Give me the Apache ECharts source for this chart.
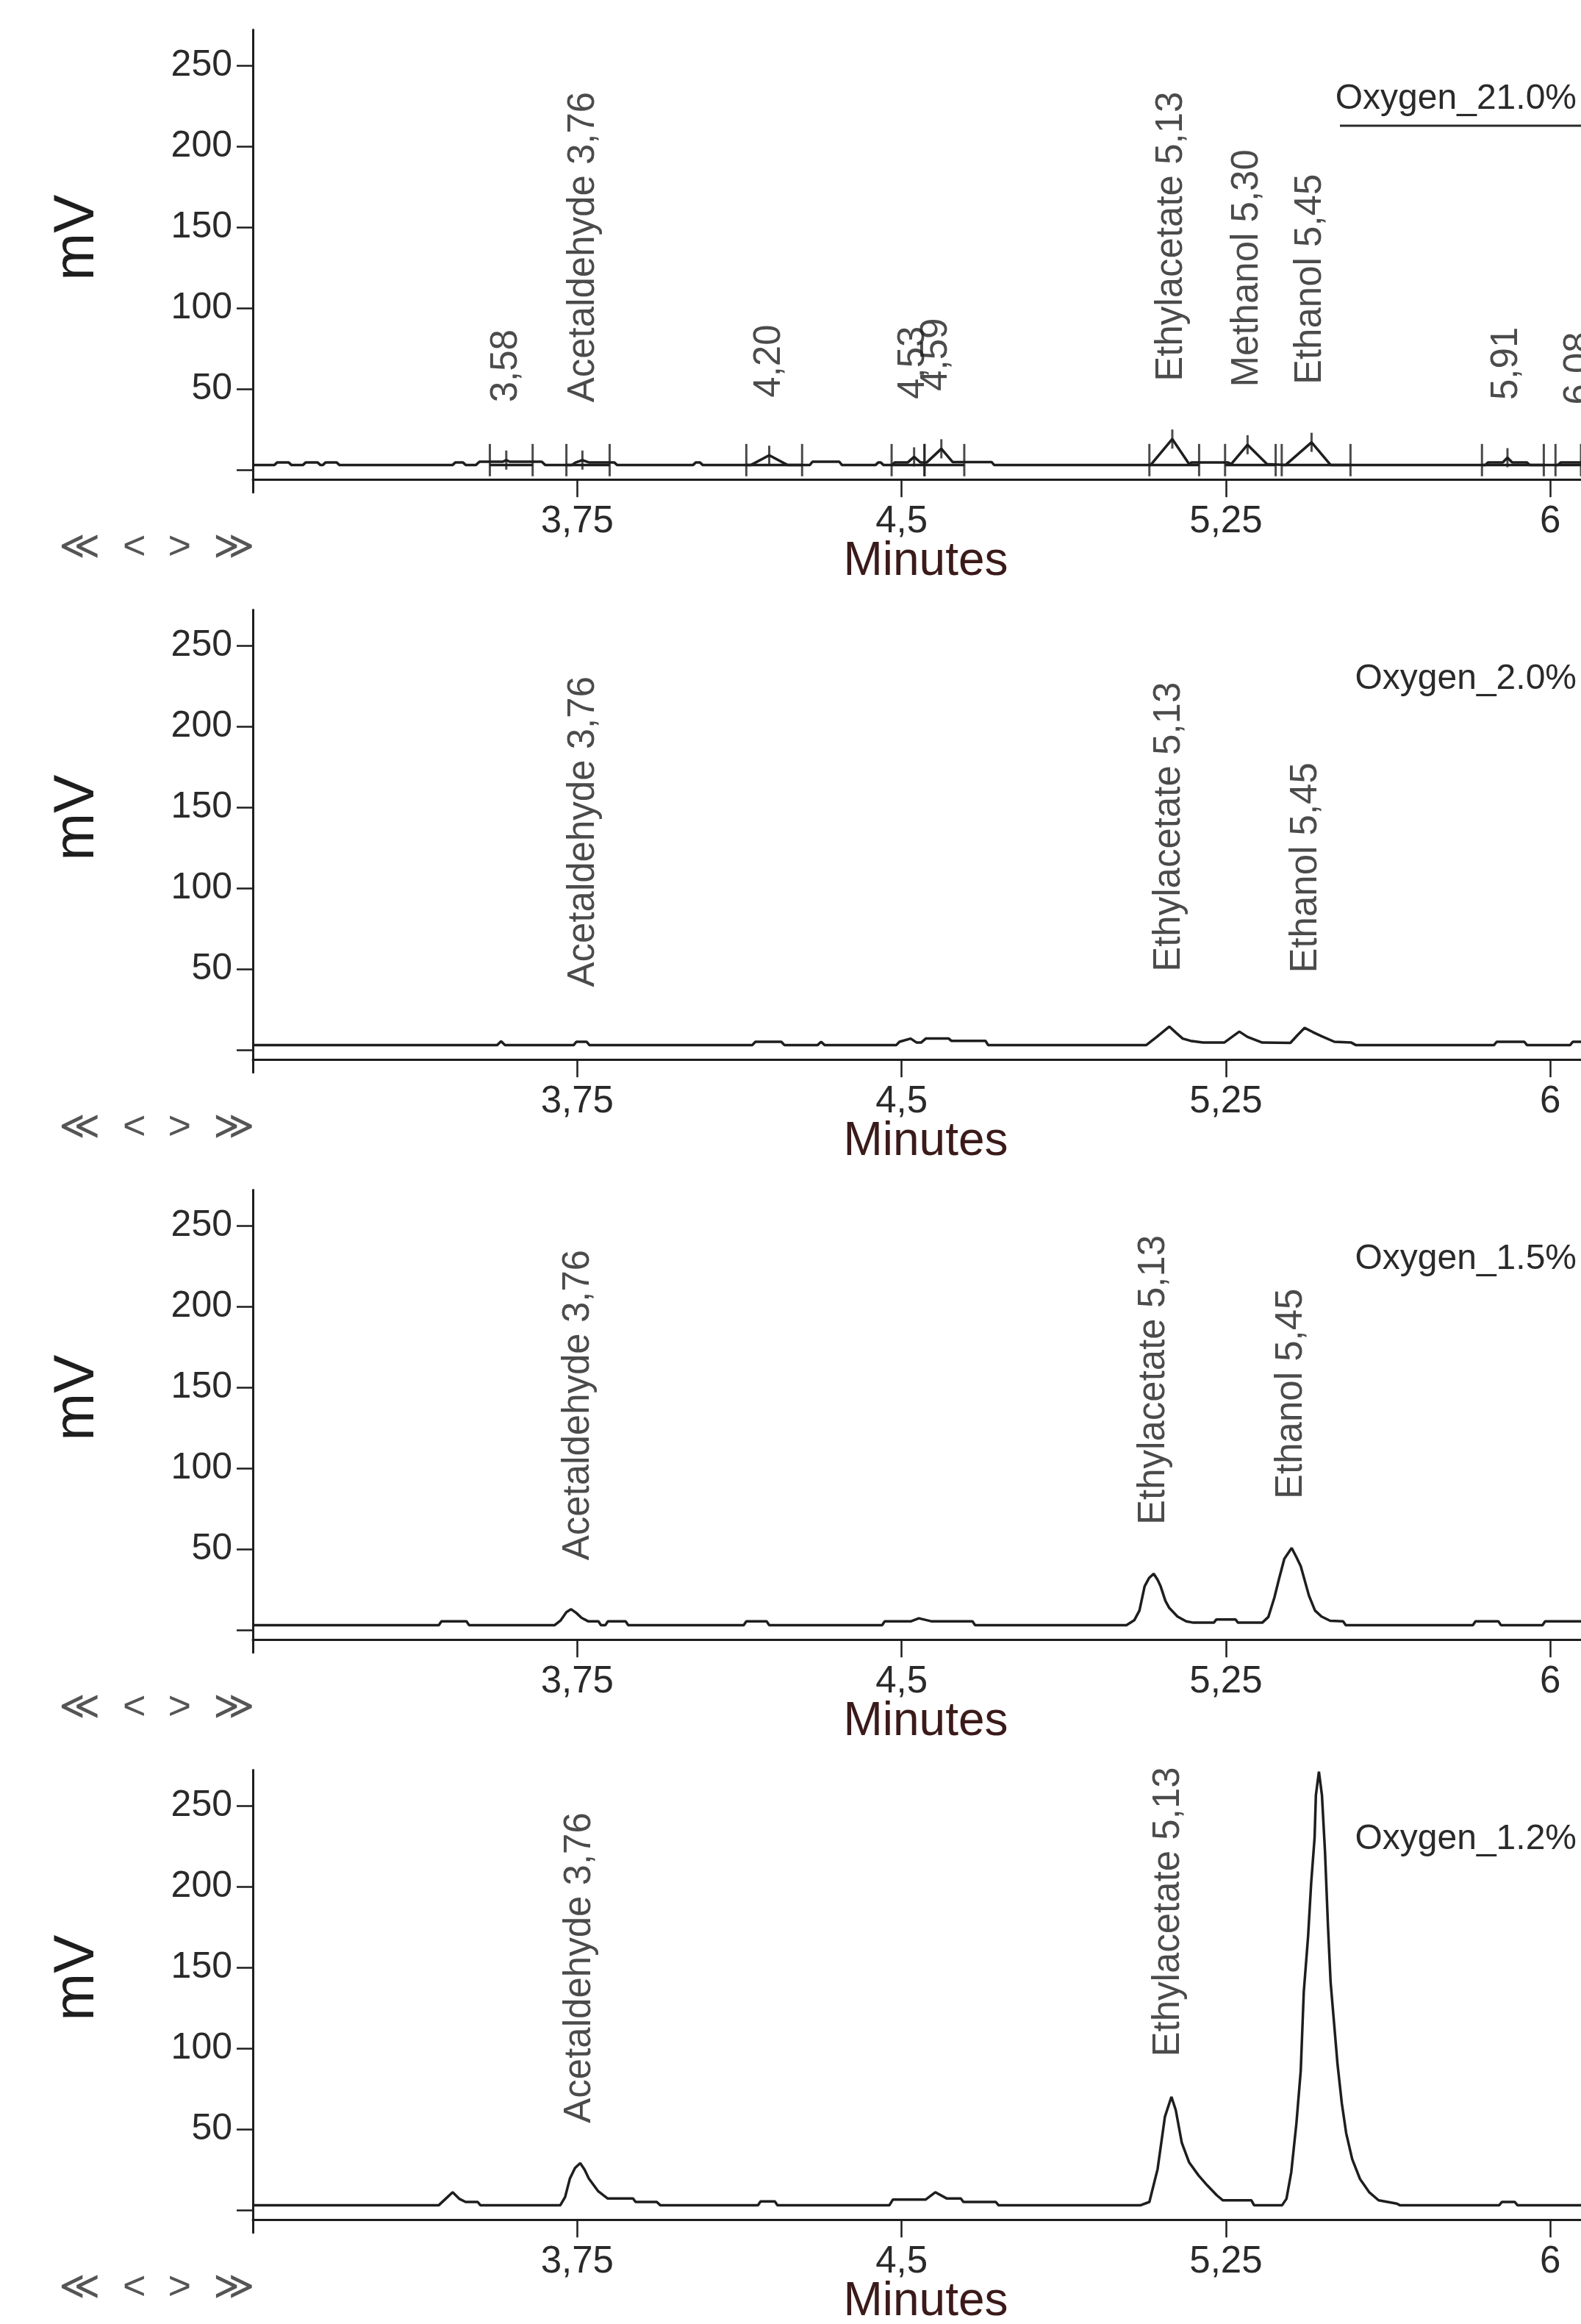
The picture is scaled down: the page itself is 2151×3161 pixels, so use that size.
<!DOCTYPE html>
<html><head><meta charset="utf-8">
<script src="https://cdn.jsdelivr.net/npm/echarts@6/dist/echarts.min.js"></script>
<style>html,body{margin:0;padding:0;background:#fff}#c{width:2151px;height:3161px}</style>
</head><body><div id="c"></div><script>
// ---------- DATA ----------
const sampleNames = ['Oxygen_21.0%', 'Oxygen_2.0%', 'Oxygen_1.5%', 'Oxygen_1.2%'];
const xTicks = [3.75, 4.5, 5.25, 6];
const yTicks = [0, 50, 100, 150, 200, 250];
const yTickLabels = [50, 100, 150, 200, 250];

// signal traces: [minutes, mV]
const o21Signal = [[3.000,3],[3.050,3],[3.056,4.5],[3.083,4.5],[3.089,3],[3.116,3],[3.122,4.5],[3.150,4.5],[3.156,3],[3.162,3],[3.168,4.5],[3.194,4.5],[3.200,3],
 [3.462,3],[3.468,4.5],[3.486,4.5],[3.492,3],[3.516,3],[3.524,5],[3.578,5],[3.586,6],[3.594,5],[3.668,5],[3.676,3],[3.738,3],[3.746,4.5],[3.762,6],[3.778,4.5],[3.836,4.5],[3.842,3],
 [4.018,3],[4.024,4.5],[4.034,4.5],[4.040,3],[4.152,3],[4.194,9],[4.236,3],[4.288,3],[4.294,5],[4.356,5],[4.362,3],[4.440,3],[4.446,4.5],[4.452,4.5],[4.458,3],[4.478,3],[4.484,4.5],[4.514,4.5],[4.529,8],[4.544,4.5],[4.558,4.5],[4.592,13],[4.618,4.8],[4.708,4.8],[4.714,3],
 [5.076,3],[5.126,19],[5.165,3.5],[5.170,4.5],[5.255,4.5],[5.262,3.5],[5.300,15.5],[5.345,3.5],[5.388,3],[5.448,17],[5.492,3],
 [5.850,3],[5.856,4.5],[5.890,4.5],[5.901,7.5],[5.912,4.5],[5.946,4.5],[5.952,3],[6.018,3],[6.024,4.5],[6.071,4.5]];
const o20Signal = [[3.000,3],[3.565,3],[3.574,5.3],[3.583,3],[3.742,3],[3.748,5],[3.772,5],[3.778,3],[4.155,3],[4.162,5],[4.222,5],[4.229,3],[4.306,3],[4.314,5],[4.322,3],
 [4.488,3],[4.495,5],[4.521,7],[4.535,4.5],[4.545,4.5],[4.556,7],[4.609,7],[4.615,5.6],[4.694,5.6],[4.700,3],
 [5.066,3],[5.090,8],[5.119,14.4],[5.135,10.5],[5.150,7],[5.168,5.6],[5.197,4.5],[5.246,4.5],[5.264,8],[5.281,11.3],[5.300,8],[5.334,4.5],[5.399,4.3],[5.415,9],[5.432,13.6],[5.451,11],[5.471,8.5],[5.501,5],[5.540,4.5],[5.550,3],
 [5.870,3],[5.876,5],[5.940,5],[5.946,3],[6.046,3],[6.052,5],[6.071,5]];
const o15Signal = [[3.000,3],[3.430,3],[3.436,5.3],[3.494,5.3],[3.500,3],[3.698,3],[3.712,6],[3.725,11],[3.736,12.8],[3.748,10.5],[3.760,7.5],[3.776,5.3],[3.799,5.3],[3.805,3],[3.815,3],[3.821,5.3],[3.862,5.3],[3.868,3],
 [4.135,3],[4.141,5.3],[4.188,5.3],[4.194,3],[4.455,3],[4.461,5.3],[4.521,5.3],[4.540,7.2],[4.570,5.3],[4.664,5.3],[4.670,3],
 [5.020,3],[5.038,6],[5.050,12],[5.062,27],[5.072,32],[5.083,34.8],[5.092,31],[5.099,27],[5.110,18],[5.119,13.6],[5.138,8.3],[5.158,5.3],[5.175,4.5],[5.222,4.5],[5.228,6.5],[5.272,6.5],[5.278,4.5],[5.334,4.5],
 [5.348,8],[5.362,20],[5.373,31.8],[5.385,44],[5.402,50.7],[5.413,45],[5.423,39.4],[5.442,21.2],[5.456,12],[5.471,8.3],[5.491,5.7],[5.521,5.3],[5.527,3],
 [5.821,3],[5.827,5.3],[5.880,5.3],[5.886,3],[5.982,3],[5.988,5.3],[6.071,5.3]];
const o12Signal = [[3.000,3],[3.430,3],[3.446,7],[3.462,11],[3.477,7],[3.492,5],[3.520,5],[3.526,3],
 [3.711,3],[3.722,8],[3.733,19.4],[3.745,26],[3.757,29],[3.767,25],[3.777,19.4],[3.798,11.8],[3.820,7.2],[3.879,7.2],[3.885,5],[3.934,5],[3.942,3],
 [4.168,3],[4.174,5.3],[4.207,5.3],[4.213,3],[4.472,3],[4.480,6.5],[4.556,6.5],[4.578,11],[4.604,7.2],[4.637,7.2],[4.643,5],[4.718,5],[4.724,3],
 [5.053,3],[5.073,5],[5.092,25.3],[5.109,57.8],[5.124,70],[5.134,61.8],[5.148,41.5],[5.165,29.4],[5.187,21.3],[5.207,15.2],[5.229,9.1],[5.243,6],[5.309,6],[5.315,3],
 [5.380,3],[5.390,7],[5.401,23.3],[5.413,53.7],[5.423,86.2],[5.430,134.8],[5.440,169.3],[5.447,201.8],[5.455,230.2],[5.458,256.5],[5.465,271],[5.472,256.5],[5.479,222],[5.486,175.4],[5.492,141],[5.501,112.5],[5.508,90.2],[5.518,65.9],[5.528,47.6],[5.542,31.4],[5.560,19.2],[5.581,11.1],[5.603,6],[5.645,4],[5.652,3],
 [5.882,3],[5.888,5],[5.918,5],[5.924,3],[6.071,3]];

// peak labels: [minutes, apex mV, text]
const o21Labels = [[3.586,6,'3,58'],[3.764,6,'Acetaldehyde 3,76'],[4.194,9,'4,20'],[4.527,8,'4,53'],[4.580,13,'4,59'],[5.124,19,'Ethylacetate 5,13'],[5.300,15.5,'Methanol 5,30'],[5.445,17,'Ethanol 5,45'],[5.900,7.5,'5,91'],[6.068,4.5,'6,08']];
const o20Labels = [[3.764,5,'Acetaldehyde 3,76'],[5.119,14.4,'Ethylacetate 5,13'],[5.436,13.6,'Ethanol 5,45']];
const o15Labels = [[3.752,12.8,'Acetaldehyde 3,76'],[5.083,34.8,'Ethylacetate 5,13'],[5.402,50.7,'Ethanol 5,45']];
const o12Labels = [[3.757,29,'Acetaldehyde 3,76'],[5.118,70,'Ethylacetate 5,13']];

// integration marks (Oxygen_21.0% run): peak start / end times and apex times
const o21PeakStart = [3.548, 3.725, 4.141, 4.477, 4.553, 5.073, 5.248, 5.379, 5.842, 6.012];
const o21PeakEnd   = [3.647, 3.825, 4.270, 4.553, 4.645, 5.188, 5.365, 5.538, 5.985, 6.071];
const o21Apex = [[3.586,6],[3.762,6],[4.194,9],[4.529,8],[4.592,13],[5.126,19],[5.300,15.5],[5.448,17],[5.901,7.5]];

// ---------- LAYOUT (style) ----------
const W = 2151, STEP = 789, ZERO0 = 639, PX = 2.2, YMAX = 272, YMIN = -14, AXIS_AT = -6;
const GRID_LEFT = 344, XMIN = 3.0, XMAX = 6.071;
const INK = '#1e1e1e';
const regular = "'Liberation Sans', Arial, sans-serif";

const signals = [o21Signal, o20Signal, o15Signal, o12Signal];
const labels = [o21Labels, o20Labels, o15Labels, o12Labels];
const labelDist = [78, 74, 66, 54];

const grids = [], xAxes = [], yAxes = [], series = [], titles = [], graphics = [];
for (let k = 0; k < 4; k++) {
  const zero = ZERO0 + k * STEP;
  grids.push({ left: GRID_LEFT, right: 0, top: zero - YMAX * PX, height: (YMAX - YMIN) * PX, containLabel: false, outerBoundsMode: 'none' });
  xAxes.push({
    type: 'value', gridIndex: k, min: XMIN, max: XMAX, position: 'bottom',
    offset: -(AXIS_AT - YMIN) * PX,
    name: 'Minutes', nameLocation: 'middle', nameGap: 80, nameMoveOverlap: false,
    nameTextStyle: { fontSize: 64, color: '#3b1a1a', fontFamily: regular, padding: [0, 0, 0, 24] },
    axisLine: { onZero: false, lineStyle: { color: INK, width: 3 } },
    axisTick: { customValues: xTicks, length: 24, lineStyle: { color: INK, width: 2.5 } },
    axisLabel: { customValues: xTicks, margin: 32, fontSize: 51, fontFamily: regular, color: '#2a2a2a',
      formatter: v => String(v).replace('.', ',') },
    splitLine: { show: false }
  });
  yAxes.push({
    type: 'value', gridIndex: k, min: YMIN, max: YMAX,
    name: 'mV', nameLocation: 'middle', nameGap: 200, nameRotate: 90, nameMoveOverlap: false,
    nameTextStyle: { fontSize: 78, color: INK, fontFamily: regular, padding: [0, 0, 0, 64] },
    axisLine: { onZero: false, lineStyle: { color: INK, width: 3 } },
    axisTick: { customValues: yTicks, length: 22, lineStyle: { color: INK, width: 2.5 } },
    axisLabel: { customValues: yTickLabels, margin: 28, fontSize: 50, fontFamily: regular, color: '#2a2a2a' },
    splitLine: { show: false }
  });
  series.push({
    type: 'line', xAxisIndex: k, yAxisIndex: k, data: signals[k], showSymbol: false, symbol: 'none',
    lineStyle: { color: INK, width: 3.5 }, z: 3, silent: true
  });
  series.push({
    type: 'scatter', xAxisIndex: k, yAxisIndex: k, symbolSize: 1, itemStyle: { color: 'rgba(0,0,0,0)' },
    data: labels[k].map(d => ({ value: [d[0], d[1]], name: d[2] })), z: 4, silent: true,
    label: { show: true, position: 'top', distance: labelDist[k], rotate: 90, align: 'left', verticalAlign: 'middle',
      formatter: p => p.name, fontSize: 51, fontFamily: regular, color: INK }
  });
  titles.push({ text: sampleNames[k], right: 6, top: 137 + k * STEP - 26, padding: 0,
    textStyle: { fontSize: 48, fontWeight: 'normal', fontFamily: regular, color: '#2a2a2a' } });
  titles.push({ text: '≪  <  >  ≫', left: 80, top: 746 + k * STEP - 28, padding: 0,
    textStyle: { fontSize: 54, fontWeight: 'normal', fontFamily: regular, color: '#555' } });
}
// integration markers for the first run
const boundaryTimes = o21PeakStart.concat(o21PeakEnd);
series.push({ type: 'scatter', xAxisIndex: 0, yAxisIndex: 0, symbol: 'rect', symbolSize: [3, 44], z: 5, silent: true,
  itemStyle: { color: INK }, data: boundaryTimes.map(t => [t, 6]) });
series.push({ type: 'scatter', xAxisIndex: 0, yAxisIndex: 0, symbol: 'rect', symbolSize: [3, 26], z: 5, silent: true,
  itemStyle: { color: INK }, data: o21Apex });
const baseSegs = [];
o21PeakStart.forEach((s, i) => { baseSegs.push([s, 3], [o21PeakEnd[i], 3], [o21PeakEnd[i], null]); });
series.push({ type: 'line', xAxisIndex: 0, yAxisIndex: 0, data: baseSegs, showSymbol: false, symbol: 'none', connectNulls: false,
  lineStyle: { color: INK, width: 3.5 }, z: 3, silent: true });
// underline of first sample name
graphics.push({ type: 'line', shape: { x1: 1823, y1: 171, x2: W, y2: 171 }, style: { stroke: '#2a2a2a', lineWidth: 3 } });

const chart = echarts.init(document.getElementById('c'), null, { renderer: 'canvas' });
chart.setOption({
  backgroundColor: '#ffffff', animation: false,
  title: titles, grid: grids, xAxis: xAxes, yAxis: yAxes, series: series, graphic: graphics
});
</script></body></html>
